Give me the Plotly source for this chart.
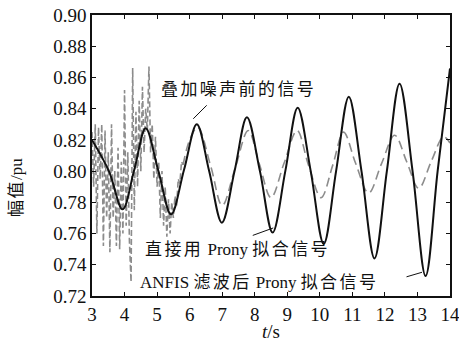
import plotly.graph_objects as go

# Signal before noise (black solid): extrema and mid-crossings
black_t = [3.0, 3.52, 3.94, 4.30, 4.65, 5.04, 5.43, 5.83, 6.22, 6.60, 6.99, 7.38, 7.76,
           8.16, 8.55, 8.94, 9.32, 9.72, 10.12, 10.50, 10.89, 11.28, 11.68, 12.06, 12.45,
           12.85, 13.25, 13.62, 14.0]
black_v = [0.820, 0.800, 0.7755, 0.801, 0.8274, 0.800, 0.7723, 0.801, 0.830, 0.800, 0.767,
           0.800, 0.8345, 0.800, 0.7606, 0.800, 0.8406, 0.800, 0.7533, 0.800, 0.8477, 0.800,
           0.7441, 0.800, 0.856, 0.800, 0.7328, 0.800, 0.8658]

# Direct Prony fit (grey dashed), noisy start
grey_noisy_t = [3.00, 3.05, 3.10, 3.15, 3.20, 3.25, 3.30, 3.35, 3.40, 3.45, 3.50, 3.55, 3.60,
                3.65, 3.70, 3.75, 3.80, 3.85, 3.90, 3.95, 4.00, 4.05, 4.10, 4.15, 4.20, 4.25,
                4.30, 4.35, 4.40, 4.45, 4.50, 4.55, 4.60, 4.65, 4.70, 4.75, 4.80, 4.85, 4.90,
                4.95, 5.00, 5.05, 5.10, 5.15, 5.20, 5.25, 5.30, 5.35, 5.40, 5.45, 5.50, 5.55,
                5.60, 5.65, 5.70, 5.75, 5.80]
grey_noisy_v = [0.825, 0.790, 0.830, 0.760, 0.828, 0.795, 0.830, 0.752, 0.826, 0.770, 0.812,
                0.748, 0.830, 0.770, 0.800, 0.752, 0.815, 0.750, 0.806, 0.760, 0.852, 0.765,
                0.812, 0.755, 0.729, 0.866, 0.775, 0.838, 0.790, 0.845, 0.800, 0.854, 0.812,
                0.840, 0.826, 0.867, 0.812, 0.830, 0.795, 0.822, 0.790, 0.806, 0.770, 0.800,
                0.765, 0.790, 0.758, 0.782, 0.760, 0.780, 0.770, 0.784, 0.778, 0.795, 0.792,
                0.806, 0.804]
# Direct Prony fit (grey dashed), smooth part
grey_t = [5.80, 6.00, 6.25, 6.65, 7.00, 7.40, 7.80, 8.15, 8.50, 8.90, 9.30, 9.65, 10.04,
          10.40, 10.73, 11.10, 11.50, 11.90, 12.30, 12.67, 13.04, 13.42, 13.80, 14.0]
grey_v = [0.804, 0.820, 0.828, 0.803, 0.778, 0.802, 0.826, 0.804, 0.783, 0.805, 0.826,
          0.804, 0.783, 0.804, 0.825, 0.805, 0.786, 0.805, 0.823, 0.806, 0.789, 0.806,
          0.822, 0.818]

x_ticks = [3, 4, 5, 6, 7, 8, 9, 10, 11, 12, 13, 14]
y_ticks = [0.72, 0.74, 0.76, 0.78, 0.80, 0.82, 0.84, 0.86, 0.88, 0.90]

SERIF = "Liberation Serif, Times New Roman, serif"
FONT = "Liberation Serif, Times New Roman, Noto Sans CJK SC, serif"
GREY = "#8c8c8c"
INK = "#111111"

W, H = 459, 347
L, R, T, B = 92, 9, 15, 51
pw, ph = W - L - R, H - T - B


def px(xp):
    return (xp - L) / pw


def py(yp):
    return 1 - (yp - T) / ph


def cjk(s):
    return f"<span style='letter-spacing:2.4px'>{s}</span>"


fig = go.Figure()
fig.add_trace(go.Scatter(x=grey_noisy_t, y=grey_noisy_v, mode="lines",
                         line=dict(color=GREY, width=1.6, dash="6px,3px"),
                         showlegend=False))
fig.add_trace(go.Scatter(x=grey_t, y=grey_v, mode="lines", line_shape="spline",
                         line=dict(color=GREY, width=1.6, dash="9px,5px"),
                         showlegend=False))
fig.add_trace(go.Scatter(x=black_t, y=black_v, mode="lines", line_shape="spline",
                         line=dict(color=INK, width=2),
                         showlegend=False))

# pointer lines
fig.add_annotation(x=6.11, y=0.8335, ax=15, ay=-15, text="", showarrow=True,
                   arrowhead=0, arrowwidth=1, arrowcolor=INK)
fig.add_annotation(x=8.57, y=0.7636, ax=-22, ay=8, text="", showarrow=True,
                   arrowhead=0, arrowwidth=1, arrowcolor=INK)
fig.add_annotation(x=13.14, y=0.7352, ax=-17, ay=5, text="", showarrow=True,
                   arrowhead=0, arrowwidth=1, arrowcolor=INK)

ann_font = dict(family=FONT, size=17, color=INK)
labels = [
    (159, 90, cjk("叠加噪声前的信号")),
    (143, 249, cjk("直接用") + " Prony " + cjk("拟合信号")),
    (138, 282, "ANFIS " + cjk("滤波后") + " Prony " + cjk("拟合信号")),
]
for xp, yp, txt in labels:
    fig.add_annotation(x=px(xp), y=py(yp), xref="paper", yref="paper", text=txt,
                       showarrow=False, font=ann_font, xanchor="left", yanchor="middle")

fig.add_annotation(x=px(16), y=py(188), xref="paper", yref="paper",
                   text="<span style='letter-spacing:1.5px'>幅值</span>/pu", textangle=-90,
                   showarrow=False, xanchor="center", yanchor="middle",
                   font=dict(family=FONT, size=17, color=INK))
fig.add_annotation(x=px(271), y=py(331), xref="paper", yref="paper",
                   text="<i>t</i>/s", showarrow=False, xanchor="center", yanchor="middle",
                   font=dict(family=SERIF, size=19, color=INK))

axis_common = dict(showline=True, linecolor=INK, linewidth=1.5, mirror="ticks",
                   ticks="inside", ticklen=4, tickcolor=INK, tickwidth=1,
                   showgrid=False, zeroline=False, automargin=False,
                   ticklabeloverflow="allow",
                   tickfont=dict(family=SERIF, size=19, color=INK))

fig.update_xaxes(range=[3, 14], tickvals=x_ticks, ticktext=[str(v) for v in x_ticks],
                 **axis_common)
fig.update_yaxes(range=[0.72, 0.90], tickvals=y_ticks, ticktext=[f"{v:.2f}" for v in y_ticks],
                 **axis_common)

fig.update_layout(width=W, height=H, margin=dict(l=L, r=R, t=T, b=B),
                  paper_bgcolor="white", plot_bgcolor="white")

fig.write_html("out.html", config={"displayModeBar": False},
               post_script="document.body.style.margin='0';document.body.style.overflow='hidden';")
